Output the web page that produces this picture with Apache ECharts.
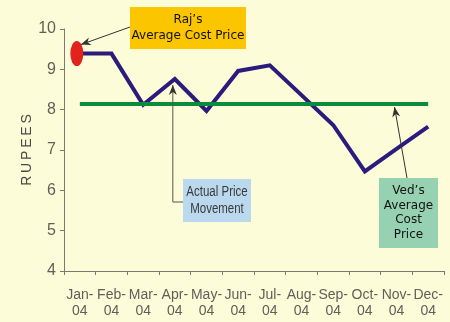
<!DOCTYPE html>
<html>
<head>
<meta charset="utf-8">
<script src="https://cdn.jsdelivr.net/npm/echarts@6/dist/echarts.min.js"></script>
<style>
  html, body { margin: 0; padding: 0; background: #fdfcd8; }
  #chart { width: 450px; height: 322px; }
</style>
</head>
<body>
<div id="chart"></div>
<script>
// Monthly share price (Rs) through 2004
const months = ['Jan-\n04', 'Feb-\n04', 'Mar-\n04', 'Apr-\n04', 'May-\n04', 'Jun-\n04',
                'Jul-\n04', 'Aug-\n04', 'Sep-\n04', 'Oct-\n04', 'Nov-\n04', 'Dec-\n04'];
const actualPrice = [9.39, 9.39, 8.12, 8.76, 7.97, 8.96, 9.10, 8.36, 7.62, 6.47, 7.03, 7.58];
const rajAvgCost = 9.39;   // bought everything in January
const vedAvgCost = 8.14;   // spread purchases through the year
const yTicks = { min: 4, max: 10, step: 1 };

const chart = echarts.init(document.getElementById('chart'));

const sans = '"Liberation Sans", Arial, Helvetica, sans-serif';
const boxFont = '"DejaVu Sans", Verdana, sans-serif';

chart.setOption({
  backgroundColor: '#fdfcd8',
  animation: false,
  grid: { left: 64, right: 6, top: 29, bottom: 51 },
  xAxis: {
    type: 'category',
    data: months,
    boundaryGap: true,
    axisLine: { lineStyle: { color: '#7a7a72', width: 1 } },
    axisTick: { show: true, length: 4, lineStyle: { color: '#7a7a72' } },
    axisLabel: {
      color: '#5f5f5a', fontFamily: sans, fontSize: 14, lineHeight: 16,
      margin: 16, interval: 0
    }
  },
  yAxis: {
    type: 'value',
    min: yTicks.min, max: yTicks.max, interval: yTicks.step,
    name: 'R\u2009U\u2009P\u2009E\u2009E\u2009S',
    nameLocation: 'middle',
    nameGap: 30,
    nameMoveOverlap: false,
    nameTextStyle: { color: '#4a4a46', fontFamily: sans, fontSize: 14 },
    splitLine: { show: false },
    axisLine: { show: true, lineStyle: { color: '#7a7a72', width: 1 } },
    axisTick: { show: true, length: 4, lineStyle: { color: '#7a7a72' } },
    axisLabel: { color: '#5f5f5a', fontFamily: sans, fontSize: 16, margin: 8 }
  },
  series: [
    {
      name: 'Actual Price',
      type: 'line',
      data: actualPrice,
      symbol: 'none',
      lineStyle: { color: '#2b1b7c', width: 4, join: 'miter' },
      z: 3,
      markLine: {
        silent: true,
        symbol: 'none',
        label: { show: false },
        lineStyle: { color: '#0b8b3c', width: 4, type: 'solid' },
        data: [[{ coord: [months[0], vedAvgCost] }, { coord: [months[11], vedAvgCost] }]]
      }
    },
    {
      name: "Raj's Cost",
      type: 'scatter',
      data: [[months[0], rajAvgCost]],
      symbol: 'circle',
      symbolSize: [13, 25],
      symbolOffset: [-3, 0],
      itemStyle: { color: '#e3221e', opacity: 1 },
      z: 4
    }
  ]
});

// Callout boxes and arrows, anchored to points on the plot
function arrowHead(tip, from, len, half, color) {
  const dx = tip[0] - from[0], dy = tip[1] - from[1];
  const d = Math.hypot(dx, dy) || 1;
  const ux = dx / d, uy = dy / d;
  const bx = tip[0] - ux * len, by = tip[1] - uy * len;
  return {
    type: 'polygon',
    shape: { points: [tip, [bx - uy * half, by + ux * half], [tip[0] - ux * len * 0.7, tip[1] - uy * len * 0.7], [bx + uy * half, by - ux * half]] },
    style: { fill: color },
    z: 20
  };
}
function box(x, y, w, h, fill, text, font, size, lh, color, squeeze) {
  return {
    type: 'group', x: x, y: y, z: 20,
    children: [
      { type: 'rect', shape: { x: 0, y: 0, width: w, height: h }, style: { fill: fill } },
      { type: 'text', x: w / 2, y: h / 2, scaleX: squeeze || 1,
        style: { text: text, fill: color, font: size + 'px ' + font, lineHeight: lh,
                 align: 'center', verticalAlign: 'middle' } }
    ]
  };
}

const ink = '#333330';
const janPt = chart.convertToPixel({ seriesIndex: 0 }, [0, rajAvgCost]);
const aprPt = chart.convertToPixel({ seriesIndex: 0 }, [3, actualPrice[3]]);
const novLine = chart.convertToPixel({ seriesIndex: 0 }, [10, vedAvgCost]);

const rajTip = [janPt[0] + 1, janPt[1] - 9];
const rajFrom = [130, 27];
const aprTip = [aprPt[0] - 2, aprPt[1] + 6];
const aprCorner = [aprTip[0], 202];
const vedTip = [novLine[0] - 2, novLine[1] + 3];
const vedFrom = [407, 178];

chart.setOption({
  graphic: [
    box(130, 7, 116, 42, '#fbc500', 'Raj\u2019s\nAverage Cost Price', boxFont, 12, 16, '#111'),
    { type: 'line', shape: { x1: rajFrom[0], y1: rajFrom[1], x2: rajTip[0], y2: rajTip[1] },
      style: { stroke: ink, lineWidth: 1 }, z: 19 },
    arrowHead(rajTip, rajFrom, 10, 4, ink),

    box(183, 179, 68, 43, '#bad9ee', 'Actual Price\nMovement', sans, 14, 17, '#3a3a3a', 0.82),
    { type: 'polyline', shape: { points: [[183, aprCorner[1]], aprCorner, aprTip] },
      style: { stroke: '#555550', lineWidth: 1, fill: null }, z: 19 },
    arrowHead(aprTip, aprCorner, 10, 4, ink),

    box(379, 178, 59, 70, '#96d2b2', 'Ved\u2019s\nAverage\nCost\nPrice', boxFont, 12, 14.5, '#111'),
    { type: 'line', shape: { x1: vedFrom[0], y1: vedFrom[1], x2: vedTip[0], y2: vedTip[1] },
      style: { stroke: ink, lineWidth: 1 }, z: 19 },
    arrowHead(vedTip, vedFrom, 10, 4, ink)
  ]
});
</script>
</body>
</html>
